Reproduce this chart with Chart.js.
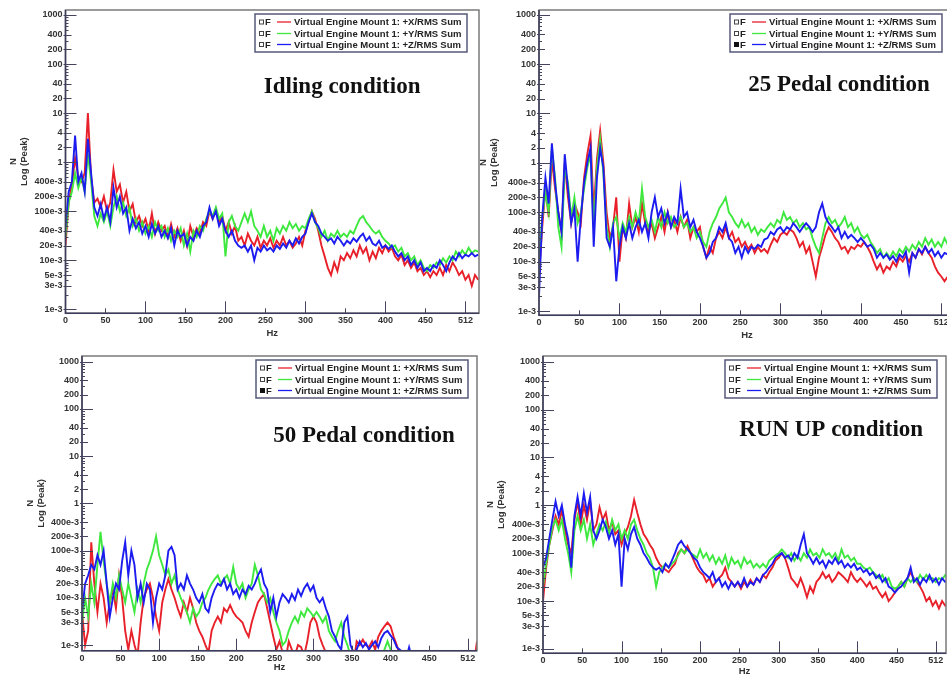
<!DOCTYPE html>
<html>
<head>
<meta charset="utf-8">
<script src="https://cdn.jsdelivr.net/npm/chart.js@4.4.1/dist/chart.umd.min.js"></script>
<style>
  body { margin: 0; width: 947px; height: 677px; overflow: hidden; background: #fff; position: relative; }
  .panel { position: absolute; }
</style>
</head>
<body>
<div class="panel" style="left:0;top:0"><canvas id="c1" width="482" height="340"></canvas></div>
<div class="panel" style="left:474px;top:0"><canvas id="c2" width="484" height="342"></canvas></div>
<div class="panel" style="left:0;top:340px"><canvas id="c3" width="480" height="337"></canvas></div>
<div class="panel" style="left:474px;top:340px"><canvas id="c4" width="475" height="337"></canvas></div>
<script>
// frequency grid (Hz)
const hz = [
  0, 4, 8, 12, 16, 20, 24, 28, 32, 36,
  40, 44, 48, 52, 56, 60, 64, 68, 72, 76,
  80, 84, 88, 92, 96, 100, 104, 108, 112, 116,
  120, 124, 128, 132, 136, 140, 144, 148, 152, 156,
  160, 164, 168, 172, 176, 180, 184, 188, 192, 196,
  200, 204, 208, 212, 216, 220, 224, 228, 232, 236,
  240, 244, 248, 252, 256, 260, 264, 268, 272, 276,
  280, 284, 288, 292, 296, 300, 304, 308, 312, 316,
  320, 324, 328, 332, 336, 340, 344, 348, 352, 356,
  360, 364, 368, 372, 376, 380, 384, 388, 392, 396,
  400, 404, 408, 412, 416, 420, 424, 428, 432, 436,
  440, 444, 448, 452, 456, 460, 464, 468, 472, 476,
  480, 484, 488, 492, 496, 500, 504, 508, 512, 516
];

const yTickValues = [1000, 400, 200, 100, 40, 20, 10, 4, 2, 1, 0.4, 0.2, 0.1, 0.04, 0.02, 0.01, 0.005, 0.003, 0.001];
const yTickLabels = ['1000', '400', '200', '100', '40', '20', '10', '4', '2', '1', '400e-3', '200e-3', '100e-3', '40e-3', '20e-3', '10e-3', '5e-3', '3e-3', '1e-3'];
const xTickValues = [0, 50, 100, 150, 200, 250, 300, 350, 400, 450, 500];
const xTickLabels = ['0', '50', '100', '150', '200', '250', '300', '350', '400', '450', '512'];

const seriesNames = [
  'Virtual Engine Mount 1: +X/RMS Sum',
  'Virtual Engine Mount 1: +Y/RMS Sum',
  'Virtual Engine Mount 1: +Z/RMS Sum'
];

// Idling condition
const idleX = [
  0.02, 0.15, 0.35, 1.2, 0.5, 0.4, 0.6, 10, 0.5, 0.15,
  0.18, 0.12, 0.2, 0.1, 0.15, 0.7, 0.25, 0.35, 0.15, 0.25,
  0.1, 0.14, 0.06, 0.08, 0.05, 0.07, 0.04, 0.09, 0.035, 0.06,
  0.04, 0.05, 0.03, 0.055, 0.03, 0.045, 0.025, 0.04, 0.02, 0.05,
  0.03, 0.045, 0.035, 0.06, 0.05, 0.1, 0.07, 0.11, 0.06, 0.08,
  0.04, 0.06, 0.035, 0.05, 0.025, 0.03, 0.02, 0.035, 0.025, 0.02,
  0.03, 0.018, 0.025, 0.02, 0.028, 0.018, 0.025, 0.02, 0.03, 0.02,
  0.025, 0.018, 0.022, 0.03, 0.02, 0.04, 0.06, 0.1, 0.07, 0.04,
  0.02, 0.012, 0.007, 0.005, 0.009, 0.006, 0.012, 0.01, 0.014, 0.011,
  0.016, 0.012, 0.02, 0.014, 0.018, 0.01, 0.015, 0.011, 0.018, 0.014,
  0.02, 0.015, 0.018, 0.012, 0.01, 0.013, 0.008, 0.01, 0.007, 0.009,
  0.006, 0.007, 0.005, 0.006, 0.0045, 0.006, 0.005, 0.007, 0.005, 0.008,
  0.006, 0.009, 0.007, 0.005, 0.006, 0.004, 0.005, 0.003, 0.005, 0.004
];
const idleY = [
  0.03, 0.15, 0.25, 0.6, 0.3, 0.5, 0.25, 1.5, 0.4, 0.08,
  0.05, 0.09, 0.06, 0.1, 0.05, 0.12, 0.2, 0.1, 0.15, 0.08,
  0.12, 0.05, 0.07, 0.04, 0.06, 0.035, 0.05, 0.03, 0.06, 0.04,
  0.05, 0.03, 0.045, 0.025, 0.04, 0.03, 0.045, 0.02, 0.035, 0.015,
  0.04, 0.03, 0.05, 0.04, 0.07, 0.1, 0.08, 0.12, 0.07, 0.09,
  0.012, 0.06, 0.08, 0.05, 0.04, 0.06, 0.09, 0.06, 0.1, 0.05,
  0.04, 0.03, 0.05, 0.03, 0.04, 0.025, 0.045, 0.035, 0.05, 0.04,
  0.06, 0.045, 0.055, 0.04, 0.05, 0.045, 0.07, 0.1, 0.06, 0.045,
  0.03, 0.04, 0.025, 0.035, 0.03, 0.04, 0.03, 0.035, 0.03, 0.04,
  0.035, 0.05, 0.07, 0.08, 0.06, 0.05, 0.04, 0.035, 0.04, 0.03,
  0.025, 0.022, 0.018, 0.02, 0.015, 0.018, 0.012, 0.014, 0.01, 0.012,
  0.008, 0.01, 0.007, 0.006, 0.008, 0.007, 0.009, 0.008, 0.011, 0.009,
  0.012, 0.01, 0.015, 0.012, 0.016, 0.013, 0.018, 0.014, 0.016, 0.015
];
const idleZ = [
  0.05, 0.25, 0.4, 3.5, 0.4, 0.6, 0.25, 3, 0.6, 0.12,
  0.08, 0.14, 0.07, 0.12, 0.06, 0.3, 0.12, 0.2, 0.09, 0.12,
  0.04, 0.07, 0.045, 0.06, 0.035, 0.05, 0.03, 0.055, 0.035, 0.05,
  0.03, 0.04, 0.028, 0.045, 0.02, 0.04, 0.03, 0.035, 0.02, 0.03,
  0.025, 0.04, 0.03, 0.05, 0.06, 0.12, 0.07, 0.1, 0.05, 0.07,
  0.04, 0.03, 0.04, 0.025, 0.02, 0.018, 0.02, 0.015, 0.02, 0.01,
  0.018, 0.015, 0.02, 0.016, 0.018, 0.015, 0.02, 0.017, 0.022, 0.018,
  0.025, 0.02, 0.028, 0.022, 0.03, 0.035, 0.06, 0.09, 0.06, 0.05,
  0.035, 0.03, 0.025, 0.028, 0.022, 0.03, 0.025, 0.02, 0.025, 0.022,
  0.028, 0.024, 0.03, 0.035, 0.025, 0.03, 0.022, 0.02, 0.025, 0.018,
  0.02, 0.017, 0.02, 0.015, 0.012, 0.014, 0.01, 0.012, 0.008, 0.01,
  0.007, 0.009, 0.006, 0.007, 0.006, 0.008, 0.007, 0.01, 0.008, 0.006,
  0.009, 0.012, 0.01, 0.014, 0.011, 0.013, 0.012, 0.014, 0.012, 0.013
];

// 25 Pedal condition
const pedal25X = [
  0.005, 0.05, 0.3, 0.08, 1.2, 0.3, 0.1, 0.04, 1.0, 0.2,
  0.06, 0.15, 0.1, 0.06, 0.5, 1.5, 3.5, 0.1, 1.2, 4.5,
  1.0, 0.1, 0.03, 0.05, 0.2, 0.01, 0.05, 0.03, 0.15, 0.05,
  0.08, 0.04, 0.15, 0.06, 0.04, 0.06, 0.03, 0.05, 0.08, 0.04,
  0.1, 0.05, 0.07, 0.04, 0.08, 0.05, 0.07, 0.03, 0.05, 0.04,
  0.05, 0.02, 0.012, 0.02, 0.015, 0.03, 0.04, 0.03, 0.05, 0.03,
  0.04, 0.025, 0.03, 0.02, 0.025, 0.018, 0.022, 0.015, 0.02, 0.016,
  0.018, 0.015, 0.022, 0.03, 0.025, 0.035, 0.04, 0.035, 0.045, 0.04,
  0.03, 0.02, 0.025, 0.015, 0.02, 0.01, 0.005, 0.012, 0.02, 0.035,
  0.05, 0.04, 0.03, 0.025, 0.018, 0.02, 0.015, 0.02, 0.018, 0.022,
  0.02, 0.025, 0.02, 0.015, 0.01, 0.007, 0.009, 0.006, 0.008, 0.007,
  0.01, 0.008, 0.012, 0.01, 0.013, 0.01, 0.015, 0.012, 0.018, 0.014,
  0.02, 0.015, 0.012, 0.008, 0.006, 0.005, 0.004, 0.005, 0.0035, 0.004
];
const pedal25Y = [
  0.01, 0.08, 0.25, 0.1, 2.0, 0.5, 0.05, 0.02, 0.8, 0.4,
  0.08, 0.2, 0.06, 0.1, 0.3, 0.8, 1.5, 0.05, 0.8, 3.0,
  0.6, 0.05, 0.02, 0.06, 0.08, 0.03, 0.06, 0.04, 0.08, 0.05,
  0.1, 0.06, 0.3, 0.08, 0.05, 0.07, 0.04, 0.08, 0.05, 0.1,
  0.06, 0.08, 0.05, 0.06, 0.08, 0.05, 0.06, 0.04, 0.05, 0.03,
  0.04, 0.025, 0.02, 0.04, 0.06, 0.08, 0.12, 0.15, 0.2, 0.1,
  0.08, 0.06, 0.05, 0.07, 0.05, 0.06, 0.04, 0.05, 0.035, 0.045,
  0.04, 0.05, 0.06, 0.05, 0.07, 0.06, 0.1, 0.07, 0.08, 0.06,
  0.07, 0.05, 0.06, 0.045, 0.05, 0.03, 0.02, 0.015, 0.03, 0.06,
  0.08, 0.06, 0.07, 0.05, 0.06, 0.08, 0.05, 0.06, 0.04, 0.05,
  0.035, 0.03, 0.035, 0.025, 0.02, 0.015, 0.018, 0.012, 0.015, 0.012,
  0.016, 0.013, 0.018, 0.015, 0.02, 0.016, 0.022, 0.018, 0.025, 0.02,
  0.03, 0.022, 0.028, 0.02, 0.025, 0.02, 0.03, 0.022, 0.028, 0.02
];
const pedal25Z = [
  0.002, 0.08, 0.5, 0.15, 2.5, 0.4, 0.1, 0.04, 1.5, 0.3,
  0.06, 0.12, 0.01, 0.08, 0.4, 1.0, 2.0, 0.02, 0.5, 2.0,
  0.8, 0.03, 0.02, 0.05, 0.004, 0.02, 0.05, 0.03, 0.06, 0.03,
  0.05, 0.07, 0.04, 0.06, 0.03, 0.1, 0.2, 0.08, 0.12, 0.06,
  0.1, 0.05, 0.08, 0.06, 0.3, 0.08, 0.1, 0.05, 0.07, 0.04,
  0.03, 0.02, 0.012, 0.015, 0.025, 0.03, 0.05, 0.04, 0.06, 0.03,
  0.025, 0.015, 0.02, 0.012, 0.02, 0.015, 0.02, 0.018, 0.022, 0.02,
  0.028, 0.03, 0.04, 0.035, 0.045, 0.05, 0.04, 0.05, 0.045, 0.06,
  0.05, 0.04, 0.05, 0.06, 0.05, 0.04, 0.05, 0.1, 0.15, 0.08,
  0.06, 0.05, 0.04, 0.05, 0.03, 0.04, 0.03, 0.035, 0.03, 0.025,
  0.03, 0.025, 0.02, 0.022, 0.018, 0.012, 0.015, 0.012, 0.014, 0.011,
  0.013, 0.01, 0.014, 0.012, 0.016, 0.006, 0.015, 0.012, 0.018, 0.015,
  0.02, 0.015, 0.018, 0.013, 0.016, 0.012, 0.015, 0.014, 0.018, 0.014
];

// 50 Pedal condition
const pedal50X = [
  0.005, 0.001, 0.002, 0.15, 0.02, 0.005, 0.02, 0.01, 0.003, 0.008,
  0.015, 0.006, 0.03, 0.01, 0.002, 0.0008, 0.002, 0.001, 0.0006, 0.003,
  0.01, 0.015, 0.02, 0.01, 0.004, 0.002, 0.008, 0.015, 0.025, 0.015,
  0.01, 0.006, 0.004, 0.008, 0.005, 0.01, 0.006, 0.003, 0.002, 0.0015,
  0.001, 0.0007, 0.002, 0.003, 0.004, 0.003, 0.006, 0.005, 0.007, 0.005,
  0.004, 0.0035, 0.003, 0.002, 0.0015, 0.003, 0.005, 0.008, 0.01, 0.012,
  0.006, 0.003, 0.0015, 0.0008, 0.0012, 0.0007, 0.0005, 0.0012, 0.0008, 0.0006,
  0.001, 0.0009, 0.0006, 0.0012, 0.003, 0.004, 0.003, 0.0015, 0.001, 0.0007,
  0.0005, 0.0004, 0.0004, 0.0004, 0.0004, 0.0004, 0.0004, 0.0004, 0.0004, 0.0012,
  0.001, 0.0013, 0.001, 0.0009, 0.0012, 0.0008, 0.0015, 0.002, 0.0025, 0.003,
  0.0025, 0.0015, 0.001, 0.0006, 0.0004, 0.0004, 0.0004, 0.0004, 0.0004, 0.0004,
  0.0004, 0.0004, 0.0004, 0.0004, 0.0004, 0.0004, 0.0004, 0.0004, 0.0004, 0.0004,
  0.0004, 0.0004, 0.0004, 0.0004, 0.0004, 0.0004, 0.0004, 0.0004, 0.0012, 0.0004
];
const pedal50Y = [
  0.003, 0.01, 0.004, 0.02, 0.008, 0.05, 0.25, 0.06, 0.02, 0.008,
  0.02, 0.01, 0.03, 0.015, 0.008, 0.02, 0.01, 0.005, 0.015, 0.008,
  0.02, 0.04, 0.06, 0.1, 0.2, 0.08, 0.05, 0.03, 0.04, 0.02,
  0.03, 0.015, 0.01, 0.007, 0.005, 0.003, 0.006, 0.004, 0.005, 0.008,
  0.01, 0.015, 0.02, 0.025, 0.03, 0.02, 0.025, 0.03, 0.02, 0.045,
  0.02, 0.015, 0.02, 0.01, 0.015, 0.02, 0.05, 0.03, 0.015, 0.012,
  0.008, 0.01, 0.005, 0.003, 0.002, 0.001, 0.0012, 0.002, 0.003, 0.004,
  0.003, 0.005, 0.004, 0.006, 0.005, 0.004, 0.005, 0.004, 0.003, 0.004,
  0.002, 0.0015, 0.0012, 0.002, 0.003, 0.0015, 0.001, 0.0006, 0.0005, 0.0005,
  0.0005, 0.0005, 0.0005, 0.0005, 0.0005, 0.0005, 0.0005, 0.0005, 0.0008, 0.0012,
  0.0008, 0.0004, 0.0004, 0.0004, 0.0004, 0.0004, 0.0004, 0.0004, 0.0004, 0.0004,
  0.0004, 0.0004, 0.0004, 0.0004, 0.0004, 0.0004, 0.0004, 0.0004, 0.0004, 0.0004,
  0.0004, 0.0004, 0.0004, 0.0004, 0.0004, 0.0004, 0.0004, 0.0004, 0.0004, 0.0004
];
const pedal50Z = [
  0.005, 0.02, 0.03, 0.05, 0.04, 0.08, 0.05, 0.1, 0.02, 0.004,
  0.01, 0.02, 0.015, 0.06, 0.15, 0.03, 0.1, 0.05, 0.01, 0.02,
  0.008, 0.02, 0.015, 0.003, 0.01, 0.02, 0.015, 0.03, 0.1, 0.12,
  0.08, 0.015, 0.02, 0.015, 0.03, 0.02, 0.015, 0.01, 0.008, 0.012,
  0.006, 0.005, 0.01, 0.015, 0.02, 0.018, 0.025, 0.015, 0.02, 0.012,
  0.015, 0.01, 0.015, 0.012, 0.018, 0.015, 0.02, 0.03, 0.04, 0.02,
  0.015, 0.005, 0.01, 0.004, 0.008, 0.012, 0.01, 0.008, 0.012, 0.009,
  0.015, 0.011, 0.016, 0.02, 0.014, 0.018, 0.01, 0.008, 0.01, 0.006,
  0.004, 0.002, 0.0015, 0.001, 0.0008, 0.003, 0.004, 0.001, 0.0007, 0.0008,
  0.0012, 0.0009, 0.0011, 0.0008, 0.001, 0.0012, 0.0009, 0.0014, 0.0018, 0.002,
  0.0016, 0.0013, 0.0009, 0.0008, 0.0007, 0.0005, 0.0009, 0.0005, 0.0004, 0.0004,
  0.0004, 0.0004, 0.0004, 0.0004, 0.0004, 0.0004, 0.0004, 0.0004, 0.0004, 0.0004,
  0.0004, 0.0004, 0.0004, 0.0004, 0.0004, 0.0004, 0.0004, 0.0004, 0.0004, 0.0004
];

// RUN UP condition
const runUpX = [
  0.01, 0.05, 0.15, 0.3, 0.6, 0.4, 0.8, 0.3, 0.15, 0.1,
  0.5, 1.2, 0.4, 1.0, 0.5, 1.2, 0.3, 0.4, 0.9, 0.5,
  0.7, 0.3, 0.45, 0.25, 0.3, 0.15, 0.25, 0.35, 0.6, 1.3,
  0.7, 0.4, 0.25, 0.2, 0.15, 0.12, 0.08, 0.06, 0.05, 0.045,
  0.04, 0.05, 0.06, 0.1, 0.12, 0.1, 0.14, 0.1, 0.07, 0.05,
  0.04, 0.035, 0.025, 0.03, 0.02, 0.025, 0.03, 0.035, 0.05, 0.03,
  0.025, 0.02, 0.025, 0.018, 0.025, 0.02, 0.028, 0.022, 0.03, 0.025,
  0.035, 0.03, 0.04, 0.05, 0.07, 0.08, 0.1, 0.08, 0.05, 0.03,
  0.025, 0.02, 0.03, 0.02, 0.012, 0.02, 0.015, 0.025, 0.03, 0.04,
  0.03, 0.035, 0.025, 0.03, 0.04, 0.035, 0.03, 0.025, 0.04, 0.03,
  0.025, 0.03, 0.025, 0.02, 0.025, 0.018, 0.02, 0.015, 0.012, 0.015,
  0.01, 0.012, 0.015, 0.02, 0.025, 0.02, 0.03, 0.04, 0.03, 0.025,
  0.02, 0.015, 0.01, 0.012, 0.008, 0.01, 0.007, 0.01, 0.008, 0.009
];
const runUpY = [
  0.02, 0.06, 0.15, 0.35, 0.5, 0.3, 0.5, 0.2, 0.1, 0.04,
  0.3, 0.6, 0.3, 0.5, 0.2, 0.4, 0.15, 0.25, 0.4, 0.3,
  0.45, 0.25, 0.5, 0.3, 0.4, 0.2, 0.3, 0.2, 0.4, 0.5,
  0.3, 0.2, 0.15, 0.1, 0.08, 0.05, 0.02, 0.04, 0.05, 0.06,
  0.05, 0.06, 0.07, 0.09, 0.12, 0.1, 0.12, 0.1, 0.09, 0.08,
  0.12, 0.08, 0.1, 0.07, 0.09, 0.06, 0.08, 0.06, 0.09, 0.05,
  0.08, 0.06, 0.07, 0.05, 0.08, 0.06, 0.07, 0.05, 0.06, 0.05,
  0.06, 0.05, 0.07, 0.08, 0.09, 0.1, 0.12, 0.1, 0.08, 0.1,
  0.07, 0.09, 0.07, 0.1, 0.08, 0.12, 0.09, 0.1, 0.08, 0.12,
  0.09, 0.1, 0.08, 0.1, 0.07, 0.12, 0.08, 0.09, 0.07, 0.08,
  0.06, 0.06, 0.05, 0.045, 0.05, 0.04, 0.035, 0.03, 0.035, 0.025,
  0.03, 0.02, 0.018, 0.02, 0.025, 0.02, 0.03, 0.025, 0.03, 0.025,
  0.035, 0.028, 0.035, 0.028, 0.03, 0.025, 0.03, 0.028, 0.035, 0.03
];
const runUpZ = [
  0.05, 0.08, 0.2, 0.5, 1.2, 0.6, 1.0, 0.4, 0.2, 0.05,
  0.6, 1.5, 0.6, 1.8, 0.7, 1.5, 0.3, 0.2, 0.3, 0.5,
  0.35, 0.2, 0.3, 0.15, 0.25, 0.02, 0.2, 0.12, 0.25, 0.35,
  0.2, 0.15, 0.1, 0.08, 0.06, 0.05, 0.045, 0.05, 0.04, 0.06,
  0.05, 0.07, 0.1, 0.15, 0.18, 0.14, 0.12, 0.1, 0.08, 0.07,
  0.05, 0.04, 0.035, 0.03, 0.04, 0.025, 0.03, 0.02, 0.025, 0.018,
  0.025, 0.02, 0.025, 0.02, 0.03, 0.02, 0.025, 0.022, 0.03, 0.025,
  0.035, 0.04, 0.05, 0.06, 0.08, 0.09, 0.1, 0.08, 0.09, 0.07,
  0.1, 0.08, 0.15, 0.25, 0.1, 0.08, 0.06, 0.08, 0.06, 0.07,
  0.05, 0.07, 0.06, 0.08, 0.06, 0.07, 0.05, 0.06, 0.05, 0.06,
  0.045, 0.05, 0.04, 0.045, 0.035, 0.04, 0.03, 0.035, 0.025, 0.03,
  0.02, 0.018, 0.015, 0.018, 0.02, 0.025, 0.03, 0.05, 0.025, 0.03,
  0.022, 0.03, 0.025, 0.035, 0.025, 0.03, 0.022, 0.03, 0.025, 0.028
];

const lineColors = ['#e8202a', '#3ee83e', '#1c1cf0'];
const textFont = '"Liberation Sans", Arial, sans-serif';

const panels = [
  { canvas: 'c1', yAxisWidth: 65.5, xAxisHeight: 26.7, padTop: 10, xMax: 517, yMin: 0.00083, yMax: 1265,
    yTitlePad: 7.5, xTitlePad: 1.3, title: 'Idling condition', titlePos: [0.669, 0.254],
    legendInset: [12, 4], filled: [false, false, false], series: [idleX, idleY, idleZ] },
  { canvas: 'c2', yAxisWidth: 65, xAxisHeight: 26.7, padTop: 10, xMax: 517, yMin: 0.00082, yMax: 1245,
    yTitlePad: 3.5, xTitlePad: 1.3, title: '25 Pedal condition', titlePos: [0.721, 0.246],
    legendInset: [13, 4], filled: [false, false, true], series: [pedal25X, pedal25Y, pedal25Z] },
  { canvas: 'c3', yAxisWidth: 82, xAxisHeight: 26.3, padTop: 16, xMax: 512, yMin: 0.00076, yMax: 1320,
    yTitlePad: 24.5, xTitlePad: 4.3, title: '50 Pedal condition', titlePos: [0.714, 0.271],
    legendInset: [9, 4], filled: [false, false, true], series: [pedal50X, pedal50Y, pedal50Z] },
  { canvas: 'c4', yAxisWidth: 69, xAxisHeight: 23.7, padTop: 16, xMax: 513, yMin: 0.00081, yMax: 1315,
    yTitlePad: 11, xTitlePad: 0, title: 'RUN UP condition', titlePos: [0.715, 0.249],
    legendInset: [9, 4], filled: [false, false, false], series: [runUpX, runUpY, runUpZ] }
];

// frame, inside tick marks, condition title and legend box
const decorPlugin = {
  id: 'decor',
  afterDatasetsDraw(chart, args, opts) {
    const { ctx, chartArea: a, scales: { x, y } } = chart;
    ctx.save();

    ctx.lineWidth = 1.5;
    ctx.strokeStyle = '#7a7a7a';
    ctx.strokeRect(a.left, a.top, a.right - a.left, a.bottom - a.top);
    ctx.strokeStyle = '#3c3c5c';
    ctx.beginPath();
    ctx.moveTo(a.left, a.top);
    ctx.lineTo(a.left, a.bottom);
    ctx.lineTo(a.right, a.bottom);
    ctx.stroke();

    // y ticks: decades long, labelled medium, minor short
    ctx.lineWidth = 1;
    ctx.strokeStyle = '#44445e';
    for (let d = -3; d <= 3; d++) {
      for (let m = 1; m <= 9; m++) {
        const v = m * Math.pow(10, d);
        if (v < y.min || v > y.max) continue;
        const py = Math.round(y.getPixelForValue(v)) + 0.5;
        let inner = 3, outer = 0;
        if (m === 1) { inner = 11; outer = 2; }
        else if (yTickValues.includes(+v.toPrecision(3))) { inner = 6; outer = 2; }
        ctx.beginPath();
        ctx.moveTo(a.left - outer, py);
        ctx.lineTo(a.left + inner, py);
        ctx.stroke();
      }
    }
    // x ticks
    xTickValues.forEach((v) => {
      if (v === 0) return;
      const px = Math.round(x.getPixelForValue(v)) + 0.5;
      const len = v % 100 === 0 ? 12 : 5;
      ctx.beginPath();
      ctx.moveTo(px, a.bottom);
      ctx.lineTo(px, a.bottom - len);
      ctx.stroke();
    });

    // condition title
    ctx.fillStyle = '#111';
    ctx.font = 'bold 23px "Liberation Serif", "Times New Roman", serif';
    ctx.textAlign = 'center';
    ctx.textBaseline = 'middle';
    ctx.fillText(opts.title, a.left + opts.titlePos[0] * (a.right - a.left),
      a.top + opts.titlePos[1] * (a.bottom - a.top));

    // legend
    const bw = 212, bh = 38;
    const bx = a.right - opts.legendInset[0] - bw;
    const by = a.top + opts.legendInset[1];
    ctx.fillStyle = '#fff';
    ctx.fillRect(bx, by, bw, bh);
    ctx.lineWidth = 1.5;
    ctx.strokeStyle = '#55597a';
    ctx.strokeRect(bx, by, bw, bh);
    const rows = [8, 19.5, 30.5];
    ctx.font = 'bold 9.5px ' + textFont;
    ctx.textAlign = 'left';
    seriesNames.forEach((name, i) => {
      const ry = by + rows[i];
      ctx.lineWidth = 1;
      ctx.strokeStyle = '#444';
      if (opts.filled[i]) {
        ctx.fillStyle = '#111';
        ctx.fillRect(bx + 4, ry - 2.5, 5, 5);
      } else {
        ctx.strokeRect(bx + 4.5, ry - 2, 4, 4);
      }
      ctx.fillStyle = '#222';
      ctx.fillText('F', bx + 10, ry + 0.5);
      ctx.strokeStyle = lineColors[i];
      ctx.lineWidth = 1.3;
      ctx.beginPath();
      ctx.moveTo(bx + 22, ry);
      ctx.lineTo(bx + 36, ry);
      ctx.stroke();
      ctx.fillStyle = '#222';
      ctx.fillText(name, bx + 39, ry + 0.5, 170);
    });
    ctx.restore();
  }
};

const tickFont = { family: textFont, size: 9, weight: 'bold' };

panels.forEach((p) => {
  const datasets = p.series.map((vals, i) => ({
    label: seriesNames[i],
    data: hz.map((h, k) => ({ x: h, y: vals[k] })),
    borderColor: lineColors[i],
    borderWidth: 1.9,
    pointRadius: 0,
    tension: 0,
    order: 3 - i
  }));

  new Chart(document.getElementById(p.canvas), {
    type: 'line',
    data: { datasets },
    plugins: [decorPlugin],
    options: {
      responsive: false,
      animation: false,
      devicePixelRatio: 1,
      layout: { padding: { top: p.padTop, right: 3, left: 0, bottom: 0 } },
      plugins: {
        legend: { display: false },
        tooltip: { enabled: false },
        decor: { title: p.title, titlePos: p.titlePos, legendInset: p.legendInset, filled: p.filled }
      },
      scales: {
        x: {
          type: 'linear',
          min: 0,
          max: p.xMax,
          grid: { display: false, drawTicks: false },
          border: { display: false },
          afterBuildTicks: (s) => { s.ticks = xTickValues.map((v) => ({ value: v })); },
          afterFit: (s) => { s.height = p.xAxisHeight; },
          ticks: {
            autoSkip: false, maxRotation: 0, padding: 2, color: '#333', font: tickFont,
            callback: (v, i) => xTickLabels[i]
          },
          title: {
            display: true, text: 'Hz', color: '#333',
            font: { family: textFont, size: 9.5, weight: 'bold' },
            padding: { top: 0, bottom: p.xTitlePad }
          }
        },
        y: {
          type: 'logarithmic',
          min: p.yMin,
          max: p.yMax,
          grid: { display: false, drawTicks: false },
          border: { display: false },
          afterBuildTicks: (s) => { s.ticks = yTickValues.map((v) => ({ value: v })); },
          afterFit: (s) => { s.width = p.yAxisWidth; },
          ticks: {
            autoSkip: false, padding: 3, color: '#333', font: tickFont,
            callback: (v, i) => yTickLabels[i]
          },
          title: {
            display: true, text: ['N', 'Log (Peak)'], color: '#333',
            font: { family: textFont, size: 9.5, weight: 'bold', lineHeight: 1.16 },
            padding: { top: p.yTitlePad, bottom: 0 }
          }
        }
      }
    }
  });
});
</script>
</body>
</html>
